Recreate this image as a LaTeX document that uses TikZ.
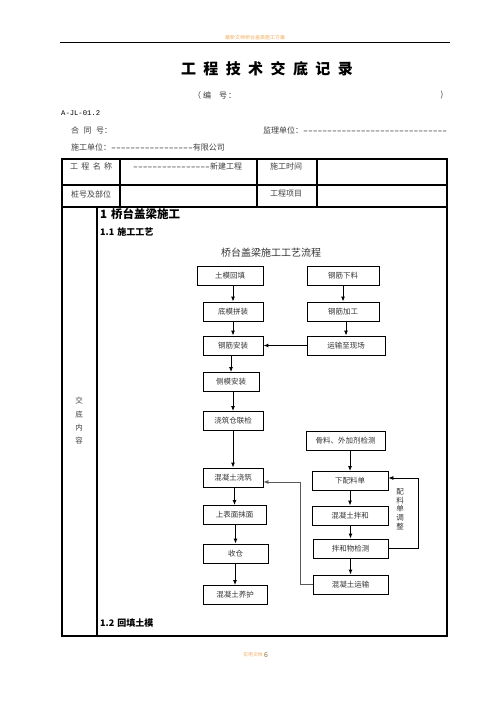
\documentclass[tikz,border=0pt]{standalone}
\usepackage{fontspec}
\setmainfont{Noto Sans CJK SC}
\newfontfamily\monofont{Liberation Mono}
\usetikzlibrary{arrows.meta,positioning}
\definecolor{hdrorange}{RGB}{242,172,92}

\begin{document}
\begin{tikzpicture}[
    %–––– GLOBAL STYLE TWEAKS ––––
    x=1pt, y=-1pt,
    >={Latex[length=5pt,width=4pt]},
    procbox/.style  = {rectangle, draw=black, line width=0.9pt,
                       minimum width=60pt, minimum height=19pt,
                       inner sep=1pt, text=black!80,
                       font=\fontsize{7.5}{8}\selectfont},
    widebox/.style  = {procbox, minimum width=76pt},
    arrow/.style    = {->, line width=0.9pt},
    loopline/.style = {->, line width=0.7pt},
    cell/.style     = {inner sep=0pt, text=black!75, font=\fontsize{8}{9}\selectfont},
    headline/.style = {inner sep=0pt, anchor=west, font=\bfseries\fontsize{9}{10}\selectfont},
    frame/.style    = {line width=1.1pt},
]
\useasboundingbox (0,0) rectangle (496,702);

%–––– PAGE HEADER ––––
\node (hdr) at (255,38) [inner sep=0pt, text=hdrorange, font=\fontsize{5}{5}\selectfont] {最新文档桥台盖梁施工方案};
\draw[line width=0.6pt] (60,42) -- (450,42);

\foreach \ch [count=\i] in {工,程,技,术,交,底,记,录}
  \node (title\i) at ({188.5+22.4*(\i-1)},69) [inner sep=0pt, font=\bfseries\fontsize{15}{15}\selectfont] {\ch};

\node (bianhao) at (193,95) [cell, anchor=west, text=black!80] {（\hspace{2pt}编\hspace{8pt}号\hspace{1pt}：};
\node (bianhao_r) at (442,95) [cell, text=black!80] {)};

\node (docno)   at (61,113)  [inner sep=0pt, anchor=west, font=\monofont\fontsize{7.2}{8}\selectfont] {A-JL-01.2};
\node (hetong)  at (71,130)  [cell, anchor=west] {合\hspace{4.5pt}同\hspace{4.5pt}号：};
\node (jianli)  at (263,130) [cell, anchor=west] {监理单位：{\monofont\color{black} ––––––––––––––––––––––––––––––}};
\node (shigong) at (71,147)  [cell, anchor=west] {施工单位：{\monofont\color{black} –––––––––––––––––}有限公司};

%–––– TABLE ––––
\draw[frame] (62,159) rectangle (447,636);
\draw[frame] (62,185) -- (447,185);
\draw[frame] (62,207) -- (447,207);
\foreach \cx in {120,257,317}
  \draw[frame] (\cx,159) -- (\cx,207);
\draw[frame] (97,207) -- (97,636);

\node (c_name)  at (70,166)  [cell, anchor=west] {工\hspace{3.3pt}程\hspace{3.3pt}名\hspace{3.3pt}称};
\node (c_proj)  at (133,166) [cell, anchor=west] {{\monofont\color{black} ––––––––––––––––}新建工程};
\node (c_time)  at (286,166) [cell] {施工时间};
\node (c_pile)  at (91,194)  [cell] {桩号及部位};
\node (c_item)  at (286,194) [cell] {工程项目};

\foreach \ch [count=\i] in {交,底,内,容}
  \node (jd\i) at (79,{401+13.3*(\i-1)}) [cell, font=\fontsize{7.5}{8}\selectfont] {\ch};

\node (sec1)  at (100,214) [headline, font=\bfseries\fontsize{11.5}{12}\selectfont] {1\hspace{4pt}桥台盖梁施工};
\node (sec11) at (100,232) [headline] {1.1\hspace{3pt}施工工艺};
\node (sec12) at (100,623) [headline] {1.2\hspace{3pt}回填土模};

%–––– FLOW CHART ––––
\node (flowtitle) at (271,253) [inner sep=0pt, text=black!80, font=\fontsize{10}{10}\selectfont] {桥台盖梁施工工艺流程};

% left column
\node (tumo)    at (230,275.5) [procbox, minimum width=66pt] {土模回填};
\node (dimo)    at (233,311.5) [procbox] {底模拼装};
\node (gjaz)    at (233,345.5) [procbox] {钢筋安装};
\node (cemo)    at (231,382)   [procbox, minimum width=56pt] {侧模安装};
\node (lianjian)at (233,421)   [procbox] {浇筑仓联检};
\node (jiaozhu) at (233,477.5) [procbox] {混凝土浇筑};
\node (mohua)   at (234.5,515) [procbox, minimum width=63pt] {上表面抹面};
\node (shoucang)at (235.5,553.5) [procbox, minimum width=65pt] {收仓};
\node (yanghu)  at (235,595)   [procbox, minimum width=64pt] {混凝土养护};

% right column
\node (xialiao) at (343,275.5) [procbox, minimum width=72pt] {钢筋下料};
\node (jiagong) at (343,311.5) [procbox, minimum width=72pt] {钢筋加工};
\node (yunshu)  at (346,345.5) [widebox, minimum width=78pt] {运输至现场};
\node (guliao)  at (345.5,440.5) [widebox, minimum width=79pt] {骨料、外加剂检测};
\node (peiliao) at (350,481)   [widebox] {下配料单};
\node (banhe)   at (350,515.5) [widebox] {混凝土拌和};
\node (jiance)  at (350.5,548.5) [widebox, minimum width=75pt] {拌和物检测};
\node (ysshu)   at (350.5,584.5) [widebox, minimum width=75pt] {混凝土运输};

%–––– ARROWS ––––
\foreach \a/\b in {
  tumo/dimo, dimo/gjaz, gjaz/cemo, cemo/lianjian, lianjian/jiaozhu,
  jiaozhu/mohua, mohua/shoucang, shoucang/yanghu,
  xialiao/jiagong, jiagong/yunshu,
  guliao/peiliao, peiliao/banhe, banhe/jiance, jiance/ysshu}
  \draw[arrow] (\a.south -| \b.north) -- (\b.north);

\draw[arrow, line width=1.2pt] (yunshu.west) -- (gjaz.east);

% return lines
\coordinate (retL) at (300,482);
\coordinate (retR) at (418,478);
\draw[loopline, draw=black!65] (ysshu.west) -| (retL) -- (jiaozhu.east |- retL);
\draw[loopline] (jiance.east) -| (retR) -- (peiliao.east |- retR);

\node (tiaozheng) at (400,509) [inner sep=0pt, align=center, text=black!80,
      font=\fontsize{7.5}{8.6}\selectfont] {配\\料\\单\\调\\整};

%–––– PAGE FOOTER ––––
\node (ftr)   at (253,655) [inner sep=0pt, text=hdrorange, font=\fontsize{4.8}{5}\selectfont] {实用文档};
\node (pgnum) at (ftr.east) [anchor=west, inner sep=1pt, text=hdrorange!60!black, font=\fontsize{7}{7}\selectfont] {6};
\end{tikzpicture}
\end{document}
